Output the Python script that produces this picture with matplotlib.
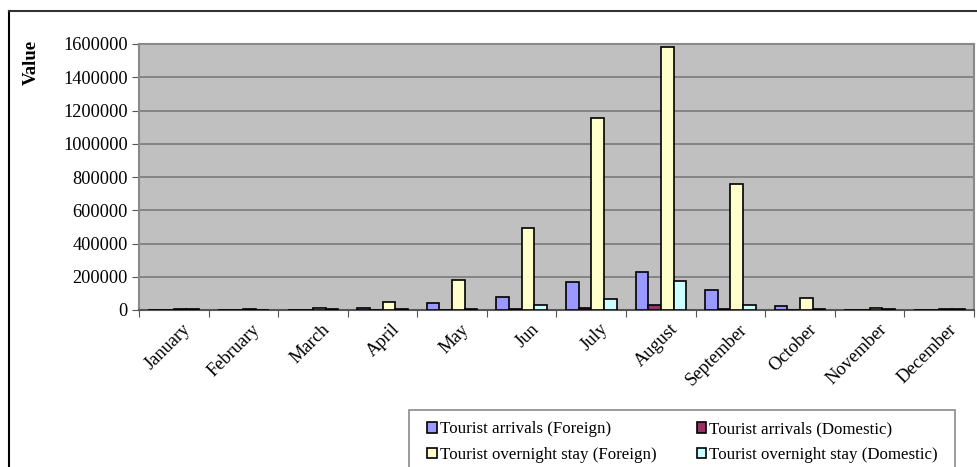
import numpy as np
import matplotlib
matplotlib.use("Agg")
import matplotlib.pyplot as plt
from matplotlib.patches import Rectangle, Patch
from matplotlib.lines import Line2D

months = ["January", "February", "March", "April", "May", "Jun", "July",
          "August", "September", "October", "November", "December"]
arrivals_foreign = [3000, 2000, 3000, 15000, 42000, 77000, 170000, 227000, 120000, 22000, 3000, 3000]
arrivals_domestic = [2000, 1500, 2000, 2000, 3000, 4000, 12000, 28000, 5000, 3000, 2000, 2000]
stay_foreign = [9000, 6000, 15000, 50000, 180000, 495000, 1153000, 1584000, 758000, 70000, 10000, 9000]
stay_domestic = [4000, 3000, 4000, 5000, 8000, 28000, 66000, 176000, 30000, 6000, 4000, 4000]
series_names = ["Tourist arrivals (Foreign)", "Tourist arrivals (Domestic)",
                "Tourist overnight stay (Foreign)", "Tourist overnight stay (Domestic)"]
series_colors = ["#9999FF", "#993366", "#FFFFCC", "#CCFFFF"]
yticks = [0, 200000, 400000, 600000, 800000, 1000000, 1200000, 1400000, 1600000]

plt.rcParams["font.family"] = ["Liberation Serif", "DejaVu Serif"]
FS = 13.2
LFS = 12.2

W, H = 978, 467
fig = plt.figure(figsize=(W / 100, H / 100), dpi=100)

# outer chart frame (left and top edges visible)
fig.add_artist(Line2D([9 / W, 9 / W], [0, 1 - 11 / H], color="black", lw=1.5,
                      transform=fig.transFigure))
fig.add_artist(Line2D([9 / W, 1], [1 - 11 / H, 1 - 11 / H], color="#333333", lw=1.5,
                      transform=fig.transFigure))

left, right, top, bottom = 139, 974, 44, 310
ax = fig.add_axes([left / W, 1 - bottom / H, (right - left) / W, (bottom - top) / H])
ax.set_facecolor("#C0C0C0")

n = len(months)
x = np.arange(n)
bw = 1 / 5.5
all_series = [arrivals_foreign, arrivals_domestic, stay_foreign, stay_domestic]
for i, (vals, col, name) in enumerate(zip(all_series, series_colors, series_names)):
    ax.bar(x + (i - 1.5) * bw, vals, width=bw, color=col, edgecolor="black",
           linewidth=1.2, label=name, zorder=3)

ax.set_xlim(-0.5, n - 0.5)
ax.set_ylim(0, 1600000)
ax.set_yticks(yticks)
ax.set_yticklabels([str(v) for v in yticks], fontsize=FS)
ax.yaxis.grid(True, color="#7a7a7a", lw=1.2, zorder=0)
ax.set_axisbelow(True)

ax.set_xticks(np.arange(n + 1) - 0.5)
ax.set_xticklabels([])
ax.tick_params(axis="x", length=5, color="#555555", direction="out")
ax.tick_params(axis="y", length=5, color="#555555", direction="out", pad=3)

for i, m in enumerate(months):
    ax.text(i + 0.12, -0.04, m, transform=ax.get_xaxis_transform(),
            rotation=45, ha="right", va="top", rotation_mode="anchor", fontsize=FS)

for side in ["top", "right", "left"]:
    ax.spines[side].set_color("#8a8a8a")
    ax.spines[side].set_linewidth(1.5)
ax.spines["bottom"].set_color("#555555")
ax.spines["bottom"].set_linewidth(1.5)

fig.text(31 / W, 1 - 62 / H, "Value", rotation=90, ha="center", va="center",
         fontsize=13.5, fontweight="bold")

# legend box
fig.add_artist(Rectangle((409 / W, -0.05), (955 - 409) / W, 0.05 + (467 - 410) / H,
                         transform=fig.transFigure, facecolor="white",
                         edgecolor="#8a8a8a", lw=1.2))
order = [0, 2, 1, 3]
handles = [Patch(facecolor=series_colors[k], edgecolor="black", lw=1.2) for k in order]
labels = [series_names[k] for k in order]
fig.legend(handles, labels, loc="upper left",
           bbox_to_anchor=(419 / W, 1 - 413 / H), ncol=2, frameon=False,
           fontsize=LFS, handlelength=0.55, handleheight=0.55, handletextpad=0.2,
           columnspacing=2.35, labelspacing=0.55, borderpad=0)

fig.savefig("out.png", dpi=100)
